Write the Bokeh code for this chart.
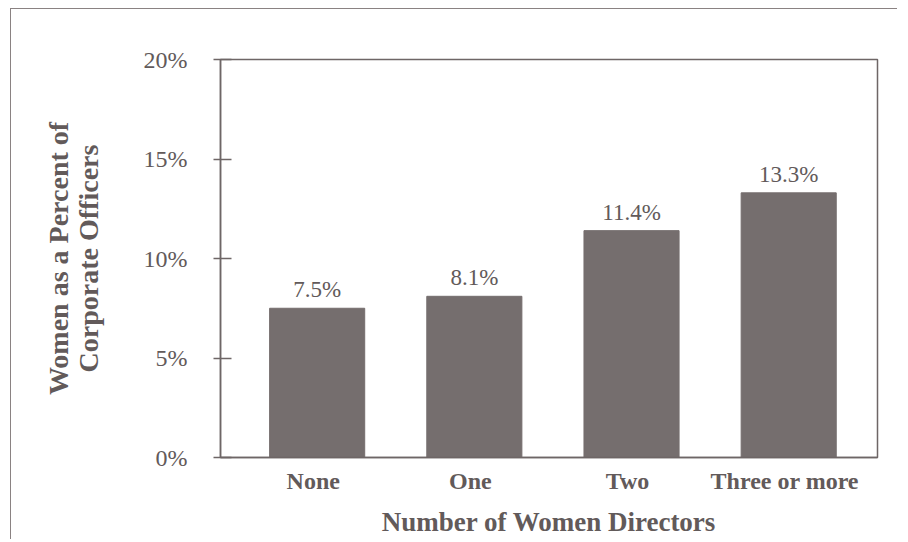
from bokeh.plotting import figure
from bokeh.models import ColumnDataSource, FactorRange, Range1d, FixedTicker, LabelSet, CustomJSTickFormatter
from bokeh.transform import dodge
from bokeh.embed import file_html
from bokeh.resources import INLINE

categories = ["None", "One", "Two", "Three or more"]
values = [7.5, 8.1, 11.4, 13.3]
labels = ["7.5%", "8.1%", "11.4%", "13.3%"]
y_ticks = [0, 5, 10, 15, 20]

TXT = "#625a5a"
BAR = "#756e6e"
LINE = "#6e6666"
FONT = "Liberation Serif"

src = ColumnDataSource(dict(cat=categories, val=values, lab=labels))

p = figure(x_range=FactorRange(*categories, range_padding=0.045),
           y_range=Range1d(0, 20),
           frame_width=657, frame_height=398,
           min_border_left=209, min_border_top=50, min_border_right=20, min_border_bottom=80,
           output_backend="svg", toolbar_location=None)

p.styles = {"border-top": "1.5px solid #8a8282", "border-left": "1.5px solid #8a8282",
            "margin-left": "10px", "margin-top": "8px"}

xpos = dodge("cat", 0.025, range=p.x_range)
p.vbar(x=xpos, top="val", width=0.605, source=src, fill_color=BAR, line_color=BAR)

p.add_layout(LabelSet(x=xpos, y="val", text="lab", source=src, text_align="center",
                      text_baseline="bottom", y_offset=6, text_font=FONT,
                      text_font_size="23px", text_color=TXT))

p.xgrid.visible = False
p.ygrid.visible = False
p.outline_line_color = LINE
p.outline_line_width = 1.5
p.background_fill_color = "white"
p.border_fill_color = "white"

ya = p.yaxis[0]
ya.ticker = FixedTicker(ticks=y_ticks)
ya.formatter = CustomJSTickFormatter(code="return tick + '%';")
ya.minor_tick_line_color = None
ya.major_tick_out = 7
ya.major_tick_in = 11
ya.major_tick_line_color = LINE
ya.major_tick_line_width = 1.5
ya.axis_line_color = LINE
ya.axis_line_width = 1.5
ya.major_label_standoff = 26
ya.major_label_text_font = FONT
ya.major_label_text_font_size = "24px"
ya.major_label_text_color = TXT
ya.axis_label = "Women as a Percent of\nCorporate Officers"
ya.axis_label_text_font = FONT
ya.axis_label_text_font_size = "28px"
ya.axis_label_text_font_style = "bold"
ya.axis_label_text_color = TXT
ya.axis_label_standoff = 37
ya.axis_label_text_line_height = 0.95

xa = p.xaxis[0]
xa.major_tick_line_color = None
xa.minor_tick_line_color = None
xa.major_tick_out = 0
xa.axis_line_color = LINE
xa.axis_line_width = 1.5
xa.major_label_standoff = 10
xa.major_label_text_font = FONT
xa.major_label_text_font_size = "24px"
xa.major_label_text_font_style = "bold"
xa.major_label_text_color = TXT
xa.axis_label = "Number of Women Directors"
xa.axis_label_text_font = FONT
xa.axis_label_text_font_size = "27px"
xa.axis_label_text_font_style = "bold"
xa.axis_label_text_color = TXT
xa.axis_label_standoff = 10

open("out.html", "w").write(file_html(p, INLINE))
